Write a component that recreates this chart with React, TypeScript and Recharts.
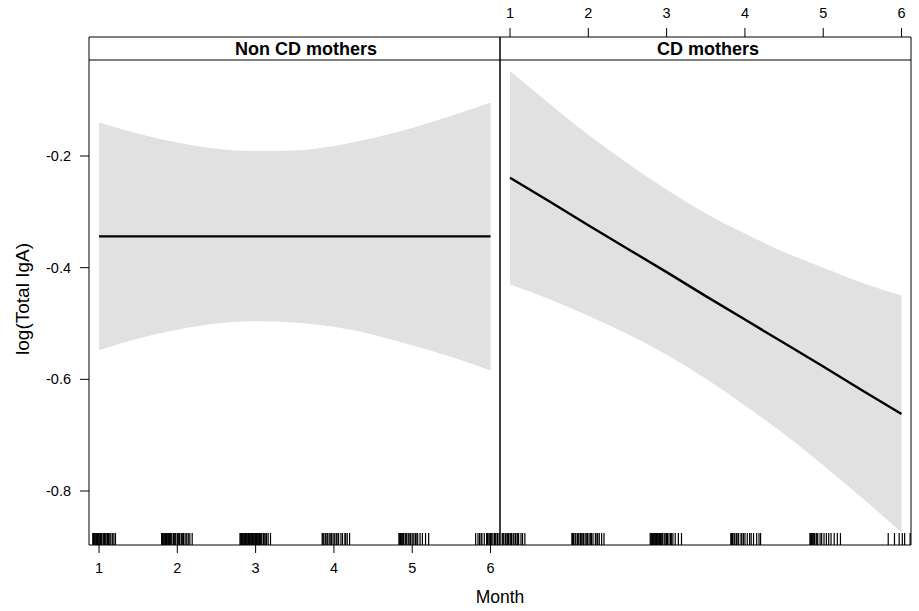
// Effects plot: log(Total IgA) by Month, split by mother group (two lattice-style panels)
import { ComposedChart, Area, Line, Scatter, XAxis, YAxis, ReferenceLine } from 'recharts';

// model grid (months) and fitted values / confidence band
const months = [1, 1.5, 2, 2.5, 3, 3.5, 4, 4.5, 5, 5.5, 6];

const nonCdFit = [-0.344, -0.344, -0.344, -0.344, -0.344, -0.344, -0.344, -0.344, -0.344, -0.344, -0.344];
const nonCdUpper = [-0.140, -0.160, -0.176, -0.187, -0.191, -0.190, -0.182, -0.168, -0.150, -0.128, -0.104];
const nonCdLower = [-0.548, -0.527, -0.511, -0.500, -0.496, -0.498, -0.506, -0.520, -0.539, -0.560, -0.584];

const cdFit = [-0.239, -0.281, -0.324, -0.366, -0.408, -0.451, -0.493, -0.535, -0.577, -0.620, -0.662];
const cdUpper = [-0.048, -0.106, -0.162, -0.213, -0.260, -0.303, -0.339, -0.372, -0.400, -0.427, -0.450];
const cdLower = [-0.430, -0.456, -0.486, -0.519, -0.556, -0.599, -0.647, -0.698, -0.754, -0.813, -0.874];

// rug: observed (jittered) months
const nonCdRug = [
  0.92, 0.93, 0.94, 0.95, 0.96, 0.97, 0.98, 0.99, 1.0, 1.01, 1.02, 1.03, 1.05, 1.06, 1.07, 1.08, 1.1, 1.11, 1.12, 1.13, 1.15, 1.17, 1.19, 1.21,
  1.8, 1.81, 1.82, 1.83, 1.84, 1.85, 1.86, 1.87, 1.88, 1.89, 1.9, 1.91, 1.92, 1.93, 1.95, 1.96, 1.97, 1.98, 2.0, 2.01, 2.02, 2.03, 2.05, 2.06, 2.07, 2.08, 2.1, 2.12, 2.14, 2.16, 2.19,
  2.8, 2.81, 2.82, 2.83, 2.84, 2.85, 2.86, 2.87, 2.88, 2.89, 2.9, 2.91, 2.92, 2.93, 2.94, 2.95, 2.96, 2.97, 2.98, 2.99, 3.0, 3.01, 3.02, 3.03, 3.04, 3.05, 3.06, 3.07, 3.08, 3.1, 3.11, 3.13, 3.14, 3.16, 3.19,
  3.85, 3.86, 3.87, 3.89, 3.9, 3.92, 3.94, 3.96, 3.97, 3.99, 4.01, 4.03, 4.04, 4.06, 4.09, 4.11, 4.14, 4.15, 4.17, 4.2,
  4.83, 4.84, 4.85, 4.86, 4.87, 4.88, 4.89, 4.91, 4.92, 4.93, 4.95, 4.97, 4.98, 5.0, 5.02, 5.04, 5.05, 5.07, 5.1, 5.13, 5.17, 5.21,
  5.81, 5.84, 5.86, 5.88, 5.89, 5.92, 5.95, 5.96, 5.97, 5.99, 6.0, 6.01, 6.03, 6.05, 6.06, 6.07, 6.09, 6.11,
];
const cdRug = [
  0.9, 0.91, 0.92, 0.94, 0.95, 0.97, 0.98, 1.0, 1.01, 1.02, 1.04, 1.05, 1.07, 1.09, 1.1, 1.11, 1.14, 1.16, 1.19,
  1.79, 1.8, 1.81, 1.83, 1.84, 1.86, 1.87, 1.88, 1.9, 1.91, 1.93, 1.94, 1.96, 1.98, 1.99, 2.01, 2.03, 2.04, 2.06, 2.09, 2.11, 2.12, 2.14, 2.17, 2.2,
  2.79, 2.8, 2.81, 2.82, 2.83, 2.84, 2.85, 2.86, 2.87, 2.88, 2.89, 2.9, 2.91, 2.92, 2.93, 2.94, 2.95, 2.97, 2.99, 3.0, 3.01, 3.03, 3.05, 3.06, 3.08, 3.11, 3.15, 3.19,
  3.82, 3.83, 3.84, 3.86, 3.87, 3.89, 3.9, 3.92, 3.95, 3.96, 3.98, 4.0, 4.03, 4.06, 4.08, 4.11, 4.15, 4.18, 4.2,
  4.83, 4.84, 4.85, 4.86, 4.87, 4.88, 4.89, 4.91, 4.92, 4.93, 4.96, 4.98, 5.01, 5.04, 5.07, 5.1, 5.14, 5.18, 5.22,
  5.83, 5.91, 5.97, 6.01, 6.04, 6.11,
];

const xTicks = [1, 2, 3, 4, 5, 6];
const yTicks = [-0.8, -0.6, -0.4, -0.2];

// axis limits (panel extents); top part of y range holds the strip
const X_DOMAIN: [number, number] = [0.872, 6.121];
const Y_DOMAIN: [number, number] = [-0.8967, 0.0131];
const STRIP_EDGE = -0.0281;

const FONT = '"Liberation Sans", Arial, Helvetica, sans-serif';
const BAND = '#e1e1e1';
const TICK_FONT = 14.5;

interface PanelProps {
  fit: number[];
  upper: number[];
  lower: number[];
  rug: number[];
  left: boolean;
}

function RugTick(p: any) {
  return <line x1={p.cx} x2={p.cx} y1={p.cy - 12} y2={p.cy} stroke="#000" strokeWidth={1.2} />;
}

// tick label renderers (so font size is applied exactly)
function BottomTick(p: any) {
  return (
    <text x={p.x} y={p.y} dy="0.71em" textAnchor="middle" fontSize={TICK_FONT} fontFamily={FONT} fill="#000">
      {p.payload.value}
    </text>
  );
}
function TopTick(p: any) {
  return (
    <text x={p.x} y={p.y} textAnchor="middle" fontSize={TICK_FONT} fontFamily={FONT} fill="#000">
      {p.payload.value}
    </text>
  );
}
function LeftTick(p: any) {
  return (
    <text x={p.x} y={p.y} dy="0.355em" textAnchor="end" fontSize={TICK_FONT} fontFamily={FONT} fill="#000">
      {p.payload.value}
    </text>
  );
}

function Panel({ fit, upper, lower, rug, left }: PanelProps) {
  const rows = months.map((m, i) => ({ month: m, fit: fit[i], band: [lower[i], upper[i]] }));
  const rugRows = rug.map((m) => ({ month: m, y: Y_DOMAIN[0] }));

  return (
    <ComposedChart
      width={919}
      height={611}
      data={rows}
      margin={left ? { top: 7, right: 409, bottom: 26, left: 9 } : { top: 7, right: 0, bottom: 26, left: 490 }}
    >
      <XAxis
        xAxisId="b"
        dataKey="month"
        type="number"
        domain={X_DOMAIN}
        allowDataOverflow
        ticks={xTicks}
        height={40}
        tickSize={8}
        tickMargin={10}
        stroke="#000"
        tick={left ? BottomTick : false}
      />
      <XAxis
        xAxisId="t"
        orientation="top"
        dataKey="month"
        type="number"
        domain={X_DOMAIN}
        allowDataOverflow
        ticks={xTicks}
        height={30}
        tickSize={9}
        tickMargin={10}
        stroke="#000"
        tick={left ? false : TopTick}
      />
      <YAxis
        yAxisId="l"
        orientation="left"
        type="number"
        domain={Y_DOMAIN}
        allowDataOverflow
        ticks={yTicks}
        width={left ? 80 : 10}
        tickSize={9}
        tickLine={left}
        tickMargin={9}
        stroke="#000"
        tick={left ? LeftTick : false}
      />
      <YAxis
        yAxisId="r"
        orientation="right"
        type="number"
        domain={Y_DOMAIN}
        allowDataOverflow
        ticks={yTicks}
        width={left ? 10 : 8}
        tickSize={9}
        tickLine={!left}
        stroke="#000"
        tick={false}
      />
      <Area
        xAxisId="b"
        yAxisId="l"
        dataKey="band"
        type="monotone"
        fill={BAND}
        fillOpacity={1}
        stroke="none"
        isAnimationActive={false}
      />
      <Line
        xAxisId="b"
        yAxisId="l"
        dataKey="fit"
        type="linear"
        stroke="#000"
        strokeWidth={2.4}
        dot={false}
        isAnimationActive={false}
      />
      <Scatter
        xAxisId="b"
        yAxisId="l"
        data={rugRows}
        dataKey="y"
        shape={RugTick}
        isAnimationActive={false}
      />
      <ReferenceLine xAxisId="b" yAxisId="l" y={STRIP_EDGE} stroke="#000" strokeWidth={1} />
    </ComposedChart>
  );
}

export default function App() {
  return (
    <div style={{ position: 'relative', width: 919, height: 611, fontFamily: FONT, background: '#fff' }}>
      <style>{'body{margin:0}'}</style>
      <div style={{ position: 'absolute', left: 0, top: 0 }}>
        <Panel fit={nonCdFit} upper={nonCdUpper} lower={nonCdLower} rug={nonCdRug} left />
      </div>
      <div style={{ position: 'absolute', left: 0, top: 0 }}>
        <Panel fit={cdFit} upper={cdUpper} lower={cdLower} rug={cdRug} left={false} />
      </div>
      {/* strip labels and axis titles */}
      <svg width={919} height={611} style={{ position: 'absolute', left: 0, top: 0, pointerEvents: 'none' }}>
        <text x={306} y={55} textAnchor="middle" fontSize={18} fontWeight="bold" fill="#000" fontFamily={FONT}>
          Non CD mothers
        </text>
        <text x={708} y={55} textAnchor="middle" fontSize={18} fontWeight="bold" fill="#000" fontFamily={FONT}>
          CD mothers
        </text>
        <text x={500} y={603} textAnchor="middle" fontSize={17.5} fill="#000" fontFamily={FONT}>
          Month
        </text>
        <text
          x={29}
          y={299}
          textAnchor="middle"
          fontSize={19}
          fill="#000"
          fontFamily={FONT}
          transform="rotate(-90, 29, 299)"
        >
          log(Total IgA)
        </text>
      </svg>
    </div>
  );
}
